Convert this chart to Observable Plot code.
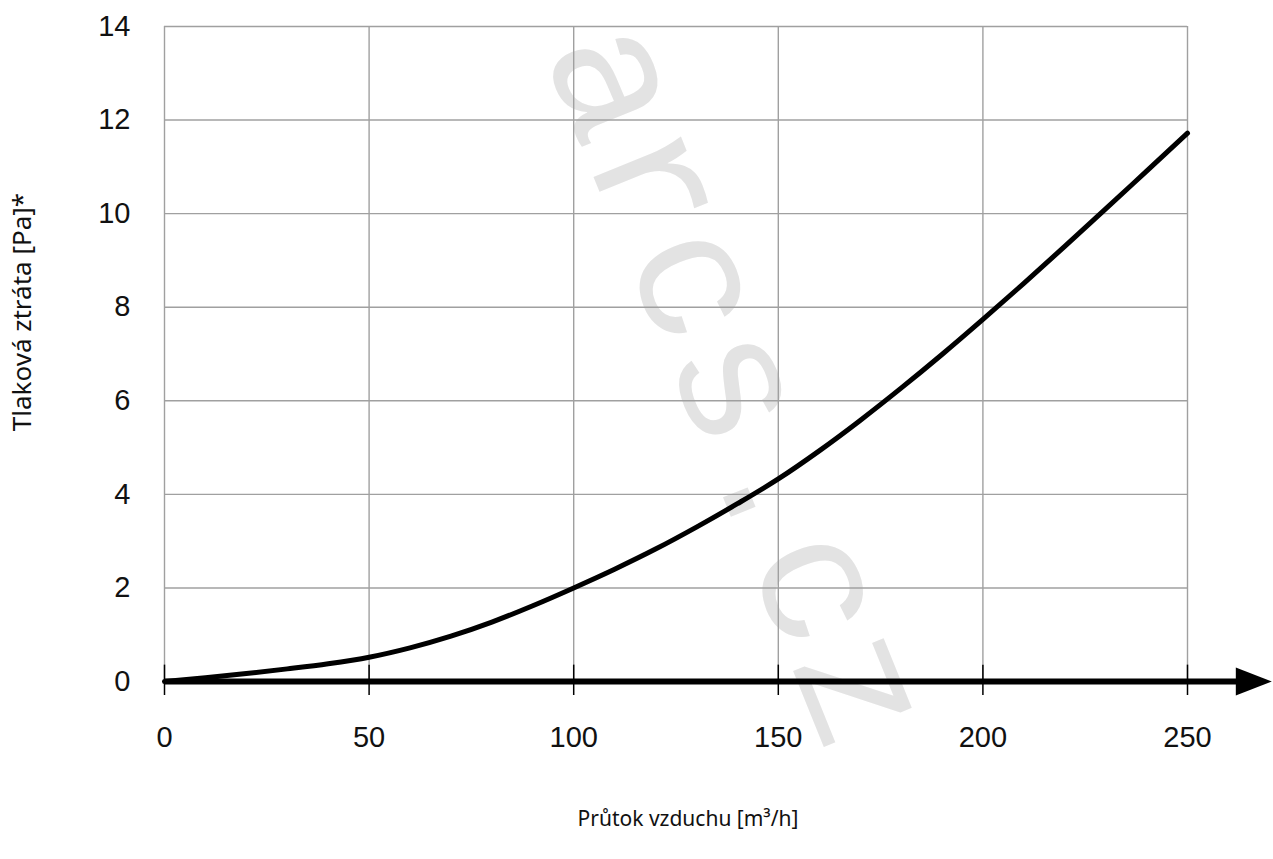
<!DOCTYPE html>
<html>
<head>
<meta charset="utf-8">
<script src="https://cdn.jsdelivr.net/npm/d3@7"></script>
<script src="https://cdn.jsdelivr.net/npm/@observablehq/plot@0.6"></script>
<style>
  html, body { margin: 0; padding: 0; background: #fff; }
  #chart svg { display: block; }
</style>
</head>
<body>
<div id="chart"></div>
<script>
// Data
const flow = [0, 10, 20, 30, 40, 50, 60, 70, 80, 90, 100, 110, 120, 130, 140, 150, 160, 170, 180, 190, 200, 210, 220, 230, 240, 250];
const pressureLoss = [0, 0.08, 0.17, 0.27, 0.38, 0.52, 0.72, 0.97, 1.27, 1.62, 2.0, 2.4, 2.83, 3.3, 3.8, 4.33, 4.93, 5.58, 6.27, 6.99, 7.74, 8.51, 9.3, 10.1, 10.91, 11.72];
const xTicks = [0, 50, 100, 150, 200, 250];
const yTicks = [0, 2, 4, 6, 8, 10, 12, 14];
const xLabel = "Průtok vzduchu [m³/h]";
const yLabel = "Tlaková ztráta [Pa]*";
const watermark = "arcs.cz";
const axisExtent = [0, 264];   // x-axis arrow shaft (data units)
const arrowAt = [266.2];       // arrow head position (data units)

const data = flow.map((x, i) => ({x, y: pressureLoss[i]}));

const arrowHead = {
  draw(ctx) {
    ctx.moveTo(18, 0);
    ctx.lineTo(-18, -14);
    ctx.lineTo(-18, 14);
    ctx.closePath();
  }
};

const tickFont = "'Liberation Sans', Arial, sans-serif";
const labelFont = "'Noto Sans', 'DejaVu Sans', sans-serif";

const chart = Plot.plot({
  width: 1273,
  height: 859,
  marginLeft: 164,
  marginRight: 86,
  marginTop: 26,
  marginBottom: 178,
  style: {fontFamily: tickFont, background: "#fff", overflow: "visible"},
  x: {domain: [0, 250], ticks: xTicks},
  y: {domain: [0, 14], ticks: yTicks},
  marks: [
    // watermark
    Plot.text([watermark], {
      frameAnchor: "middle", dx: 64, dy: 30, rotate: 68,
      fontSize: 182, fontFamily: "'Liberation Mono', 'DejaVu Sans Mono', monospace",
      fill: "#e3e3e3", text: d => d
    }),
    Plot.gridX(xTicks, {stroke: "#a0a0a0", strokeOpacity: 1, strokeWidth: 1.4}),
    Plot.gridY(yTicks, {stroke: "#a0a0a0", strokeOpacity: 1, strokeWidth: 1.4}),
    Plot.axisY(yTicks, {tickSize: 0, tickPadding: 34, fontSize: 29, fill: "#111", label: null}),
    Plot.axisX(xTicks, {tickSize: 14, tickPadding: 31, fontSize: 29, fill: "#111", stroke: "#000", strokeWidth: 1.5, label: null}),
    Plot.ruleX(xTicks, {y1: 0, y2: 0.35, stroke: "#000", strokeWidth: 1.5}),
    // x-axis arrow
    Plot.ruleY([0], {x1: axisExtent[0], x2: axisExtent[1], stroke: "#000", strokeWidth: 6}),
    Plot.dot(arrowAt, {x: d => d, y: 0, symbol: arrowHead, fill: "#000", stroke: "none", r: 10}),
    // curve
    Plot.line(data, {x: "x", y: "y", curve: "monotone-x", stroke: "#000", strokeWidth: 5}),
    // axis titles
    Plot.text([xLabel], {
      frameAnchor: "bottom", dx: 12, dy: 144, fontSize: 21,
      fontFamily: labelFont, fill: "#111", text: d => d
    }),
    Plot.text([yLabel], {
      frameAnchor: "left", textAnchor: "middle", dx: -142, dy: -42, rotate: -90, fontSize: 26,
      fontFamily: labelFont, fill: "#111", text: d => d
    })
  ]
});

document.getElementById("chart").appendChild(chart);
</script>
</body>
</html>
